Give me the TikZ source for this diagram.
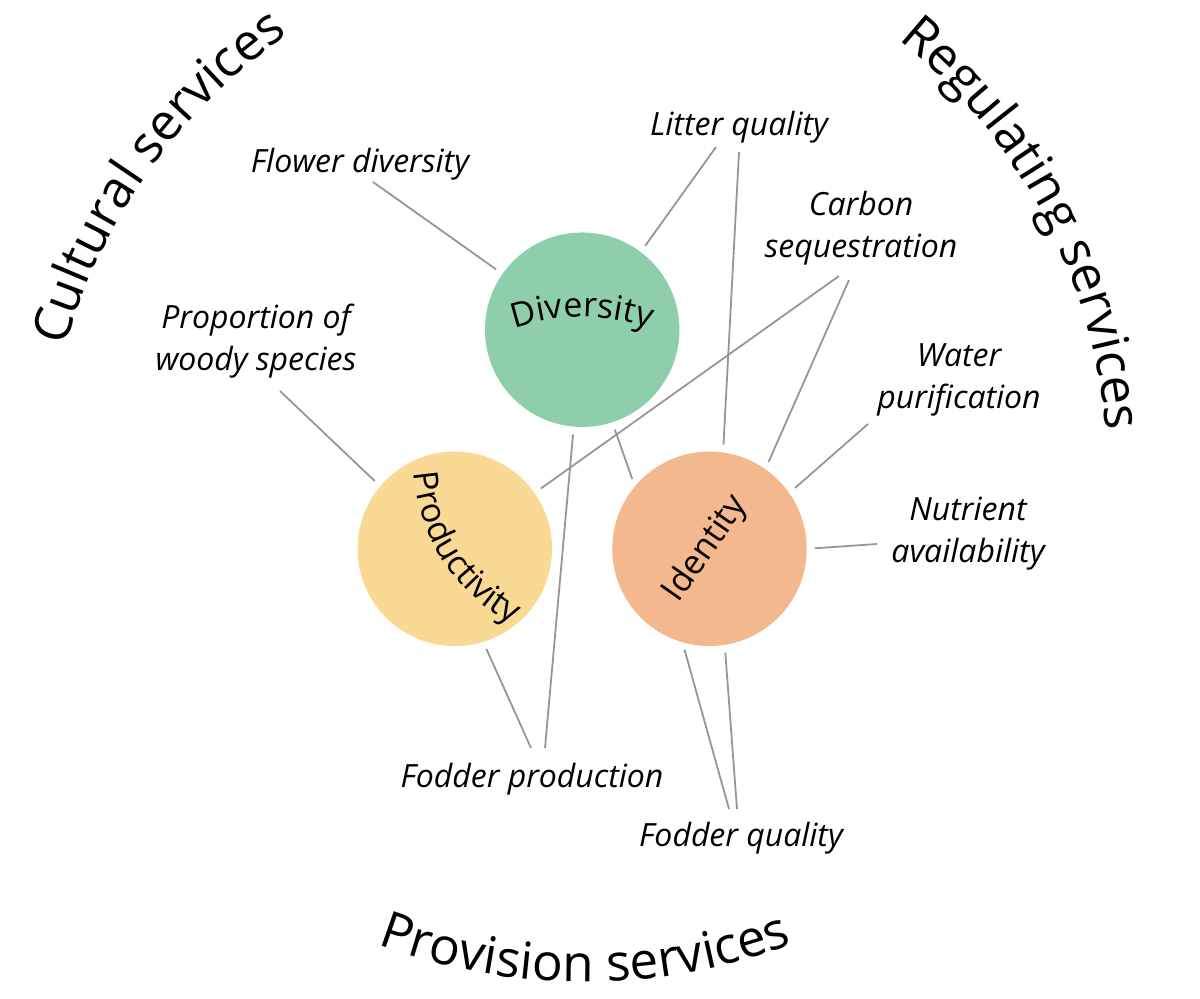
\documentclass[tikz,border=0pt]{standalone}
\usepackage{fontspec}
\setmainfont{Open Sans}
\usetikzlibrary{decorations.text}

\definecolor{divgreen}{RGB}{142,206,170}
\definecolor{prodyellow}{RGB}{249,217,148}
\definecolor{identorange}{RGB}{244,184,142}
\definecolor{linkgray}{RGB}{150,150,150}

\newcommand{\titlefont}{\fontsize{25.6}{30}\selectfont}
\newcommand{\factorfont}{\fontsize{17}{20}\selectfont}

\begin{document}
\begin{tikzpicture}[
  x=0.5pt, y=-0.5pt,
  factor/.style={circle, minimum size=97.25pt, inner sep=0pt},
  service/.style={font=\fontsize{16}{21}\selectfont\itshape, align=center, inner sep=0pt},
  link/.style={draw=linkgray, line width=.9pt, shorten <=3.7pt},
  bend text/.style={decorate, decoration={text along path, text align=center, text={#1}}}
]
\useasboundingbox (0,0) rectangle (1200,998);

\node[factor, fill=divgreen] (div) at (582.2,329.7) {};
\node[factor, fill=prodyellow] (prod) at (454.8,548.8) {};
\node[factor, fill=identorange] (ident) at (709.5,548.8) {};

\path[bend text={|\factorfont|Diversity}, shift={(582,522)}] (-125:205) arc[start angle=-125, end angle=-55, radius=205];
\path[bend text={|\factorfont|Productivity}, shift={(596,462)}] (192:182) arc[start angle=192, end angle=102, radius=182];
\node[font=\factorfont, rotate=55] (ident-label) at (706,549) {Identity};

\path[bend text={|\titlefont|Cultural services}, shift={(612,501)}] (185:568) arc[start angle=185, end angle=246, radius=568];
\path[bend text={|\titlefont|Regulating services}, shift={(547,477)}] (-60:561) arc[start angle=-60, end angle=4, radius=561];
\path[bend text={|\titlefont|Provision services}, shift={(585,396)}] (125:586) arc[start angle=125, end angle=55, radius=586];

\node[service, anchor=base] (flower) at (360,172) {Flower diversity};
\node[service, anchor=base] (litter) at (739,135) {Litter quality};
\node[service] (carbon) at (861,228) {Carbon\\sequestration};
\node[service] (woody) at (256,341) {Proportion of\\woody species};
\node[service] (water) at (959,380) {Water\\purification};
\node[service] (nutrient) at (968,533.5) {Nutrient\\availability};
\node[service, anchor=base] (fodder) at (532,787) {Fodder production};
\node[service, anchor=base] (quality) at (741,846) {Fodder quality};

\coordinate (flower-tip) at (373,182);
\coordinate (litter-tip-a) at (716,147);
\coordinate (litter-tip-b) at (739,152);
\coordinate (carbon-tip-a) at (839,276);
\coordinate (carbon-tip-b) at (849,280);
\coordinate (woody-tip) at (280,391);
\coordinate (water-tip) at (868,424);
\coordinate (nutrient-tip) at (877,544);
\coordinate (fodder-tip-a) at (531,748);
\coordinate (fodder-tip-b) at (545,748);
\coordinate (quality-tip-a) at (729,809);
\coordinate (quality-tip-b) at (737,809);

\draw[link] (div.145) -- (flower-tip);
\draw[link] (div.53) -- (litter-tip-a);
\draw[link] (ident.82) -- (litter-tip-b);
\draw[link] (prod.35) -- (carbon-tip-a);
\draw[link] (ident.55) -- (carbon-tip-b);
\draw[link] (prod.140) -- (woody-tip);
\draw[link] (ident.35) -- (water-tip);
\draw[link] (ident.0) -- (nutrient-tip);
\draw[link] (prod.287) -- (fodder-tip-a);
\draw[link] (div.265) -- (fodder-tip-b);
\draw[link] (ident.254) -- (quality-tip-a);
\draw[link] (ident.279) -- (quality-tip-b);
\draw[link, shorten >=3.7pt] (div.288) -- (ident.140);
\end{tikzpicture}
\end{document}
